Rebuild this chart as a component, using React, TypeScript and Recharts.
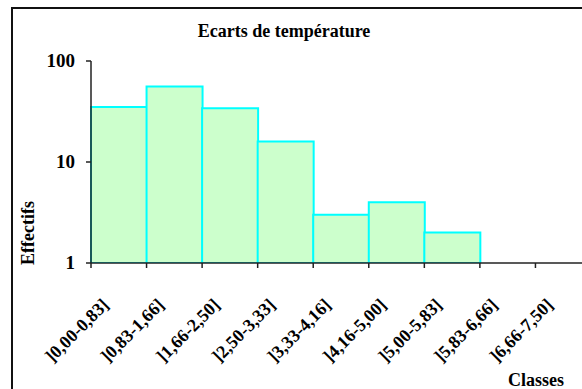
import { BarChart, Bar, XAxis, YAxis } from "recharts";

const classes = [
  "]0,00-0,83]",
  "]0,83-1,66]",
  "]1,66-2,50]",
  "]2,50-3,33]",
  "]3,33-4,16]",
  "]4,16-5,00]",
  "]5,00-5,83]",
  "]5,83-6,66]",
  "]6,66-7,50]",
];
const effectifs = [35, 56, 34, 16, 3, 4, 2, 0, 0];
const yTicks = [1, 10, 100];

const font = "'Liberation Serif', 'Times New Roman', serif";

// log scale can't show 0, so empty classes become null
const data = classes.map((name, i) => ({
  name,
  value: effectifs[i] > 0 ? effectifs[i] : null,
}));

// tick mark sits on the class boundary (left edge of each band), label under the band
const XTick = ({ x, y, payload }: any) => {
  const edge = x - (payload.offset || 0);
  const lx = x - 9;
  const ly = y + 38;
  return (
    <g>
      <line x1={edge} y1={y - 5} x2={edge} y2={y} stroke="#222" strokeWidth={1.5} />
      <text
        x={lx}
        y={ly}
        transform={`rotate(-45, ${lx}, ${ly})`}
        textAnchor="end"
        fontFamily={font}
        fontWeight="bold"
        fontSize={18}
        fill="#000"
      >
        {payload.value}
      </text>
    </g>
  );
};

const YTick = ({ y, payload }: any) => (
  <text
    x={75}
    y={y + 6}
    textAnchor="end"
    fontFamily={font}
    fontWeight="bold"
    fontSize={19}
    fill="#000"
  >
    {payload.value}
  </text>
);

export default function App() {
  return (
    <div
      style={{
        position: "fixed",
        left: 0,
        top: 0,
        width: 582,
        height: 389,
        overflow: "hidden",
        background: "#fff",
      }}
    >
      <div
        style={{
          position: "absolute",
          left: 11,
          top: 7,
          width: 620,
          height: 420,
          border: "2px solid #111",
        }}
      />
      <BarChart
        width={600}
        height={389}
        data={data}
        margin={{ top: 61, right: 9, bottom: 0, left: 0 }}
        barCategoryGap={0}
      >
        <XAxis
          dataKey="name"
          height={126}
          tick={<XTick />}
          tickSize={5}
          tickMargin={0}
          tickLine={false}
          interval={0}
          axisLine={{ stroke: "#222", strokeWidth: 1.5 }}
        />
        <YAxis
          scale="log"
          domain={[1, 100]}
          ticks={yTicks}
          allowDataOverflow
          width={91}
          tick={<YTick />}
          tickSize={5}
          axisLine={{ stroke: "#222", strokeWidth: 1.5 }}
          tickLine={{ stroke: "#222", strokeWidth: 1.5 }}
        />
        <Bar
          dataKey="value"
          fill="#CCFFCC"
          stroke="#00FFFF"
          strokeWidth={2}
          isAnimationActive={false}
        />
      </BarChart>
      <div
        style={{
          position: "absolute",
          left: 184,
          top: 21,
          width: 200,
          textAlign: "center",
          fontFamily: font,
          fontWeight: "bold",
          fontSize: 18,
          lineHeight: "20px",
        }}
      >
        Ecarts de température
      </div>
      <div
        style={{
          position: "absolute",
          left: 28,
          top: 233,
          transform: "translate(-50%, -50%) rotate(-90deg)",
          fontFamily: font,
          fontWeight: "bold",
          fontSize: 18,
          lineHeight: "20px",
          whiteSpace: "nowrap",
        }}
      >
        Effectifs
      </div>
      <div
        style={{
          position: "absolute",
          left: 508,
          top: 370,
          fontFamily: font,
          fontWeight: "bold",
          fontSize: 18,
          lineHeight: "20px",
        }}
      >
        Classes
      </div>
    </div>
  );
}
